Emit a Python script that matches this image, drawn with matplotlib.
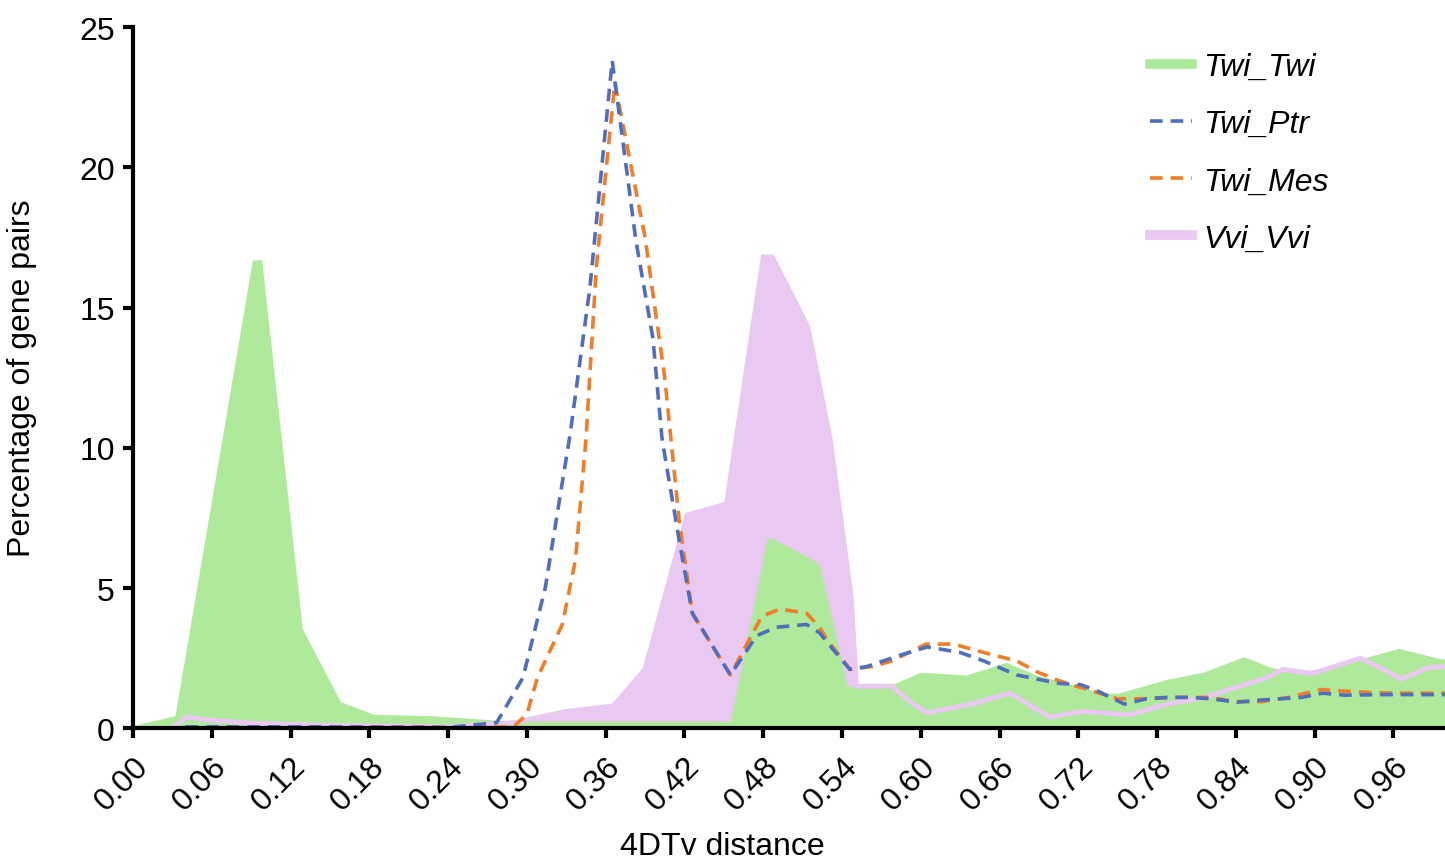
import matplotlib
matplotlib.use("Agg")
import matplotlib.pyplot as plt
from matplotlib.lines import Line2D

plt.rcParams["font.family"] = ["Liberation Sans", "DejaVu Sans"]

# -----------------------------
# Data (4DTv distance, % of gene pairs)
# -----------------------------
twi_twi_x = [0.0, 0.032, 0.091, 0.098, 0.129, 0.158, 0.183, 0.226, 0.274, 0.30, 0.40, 0.455,
             0.483, 0.49, 0.518, 0.523, 0.544, 0.58, 0.60, 0.635, 0.665, 0.688, 0.72, 0.738,
             0.75, 0.788, 0.815, 0.846, 0.865, 0.884, 0.906, 0.937, 0.964, 0.994, 1.0]
twi_twi_y = [0.1, 0.45, 16.7, 16.7, 3.55, 0.95, 0.5, 0.45, 0.3, 0.25, 0.25, 0.25,
             6.8, 6.7, 6.0, 5.8, 1.5, 1.6, 2.0, 1.9, 2.35, 1.9, 1.5, 1.25,
             1.25, 1.75, 2.0, 2.55, 2.2, 1.95, 2.15, 2.5, 2.85, 2.5, 2.45]

vvi_vvi_x = [0.0, 0.03, 0.041, 0.056, 0.091, 0.15, 0.24, 0.29, 0.33, 0.366, 0.39, 0.422,
             0.452, 0.48, 0.487, 0.514, 0.531, 0.547, 0.551, 0.578, 0.593, 0.605, 0.638,
             0.668, 0.698, 0.723, 0.759, 0.788, 0.816, 0.843, 0.863, 0.876, 0.898, 0.935,
             0.95, 0.966, 0.986, 1.0]
vvi_vvi_y = [0.0, 0.0, 0.4, 0.3, 0.18, 0.1, 0.05, 0.2, 0.6, 0.8, 2.1, 7.6,
             8.0, 16.8, 16.8, 14.3, 10.3, 4.7, 1.5, 1.5, 0.9, 0.55, 0.86,
             1.25, 0.4, 0.6, 0.48, 0.86, 1.1, 1.5, 1.8, 2.1, 1.95, 2.5,
             2.15, 1.75, 2.15, 2.2]

twi_ptr_x = [0.04, 0.12, 0.24, 0.277, 0.297, 0.314, 0.333, 0.348, 0.365, 0.383, 0.396, 0.403,
             0.416, 0.426, 0.455, 0.475, 0.49, 0.513, 0.523, 0.528, 0.546, 0.559, 0.584,
             0.605, 0.63, 0.648, 0.673, 0.705, 0.722, 0.736, 0.755, 0.772, 0.788, 0.805,
             0.821, 0.841, 0.857, 0.874, 0.89, 0.906, 0.923, 0.95, 1.0]
twi_ptr_y = [0.05, 0.05, 0.03, 0.2, 1.8, 5.0, 10.5, 15.7, 23.8, 17.4, 13.9, 10.3,
             6.7, 4.1, 1.9, 3.3, 3.6, 3.7, 3.4, 3.1, 2.1, 2.2, 2.6,
             2.9, 2.7, 2.4, 1.9, 1.6, 1.55, 1.3, 0.86, 1.05, 1.1, 1.1,
             1.05, 0.93, 1.0, 1.05, 1.1, 1.25, 1.18, 1.2, 1.2]

twi_mes_x = [0.04, 0.12, 0.24, 0.29, 0.30, 0.308, 0.327, 0.337, 0.345, 0.353, 0.367, 0.39,
             0.405, 0.416, 0.426, 0.455, 0.479, 0.493, 0.513, 0.523, 0.528, 0.546, 0.563,
             0.578, 0.604, 0.625, 0.648, 0.673, 0.689, 0.705, 0.722, 0.75, 0.77, 0.79,
             0.82, 0.84, 0.86, 0.88, 0.905, 0.93, 0.96, 1.0]
twi_mes_y = [0.05, 0.05, 0.03, 0.05, 0.5, 1.8, 3.7, 6.0, 10.3, 16.5, 23.0, 17.5,
             12.5, 7.4, 4.1, 1.9, 4.0, 4.25, 4.1, 3.6, 3.2, 2.1, 2.2,
             2.4, 3.0, 3.0, 2.7, 2.4, 2.0, 1.7, 1.45, 1.05, 1.05, 1.1,
             1.1, 0.95, 0.95, 1.1, 1.38, 1.3, 1.25, 1.25]

x_ticks = [0.00, 0.06, 0.12, 0.18, 0.24, 0.30, 0.36, 0.42, 0.48, 0.54,
           0.60, 0.66, 0.72, 0.78, 0.84, 0.90, 0.96]
y_ticks = [0, 5, 10, 15, 20, 25]

GREEN = "#afe99b"
PINK = "#e9c8f2"
BLUE = "#4f6ebe"
ORANGE = "#f07d28"

fig = plt.figure(figsize=(14.45, 8.62), dpi=100)
ax = fig.add_axes([0.092, 0.154, 0.9087, 0.8135])

# filled distributions
ax.fill_between(vvi_vvi_x, vvi_vvi_y, 0, color=PINK, lw=0, zorder=1)
ax.fill_between(twi_twi_x, twi_twi_y, 0, color=GREEN, lw=0, zorder=2)
ax.plot(vvi_vvi_x, vvi_vvi_y, color=PINK, lw=3.5, zorder=3, solid_joinstyle="miter")

# dashed between-species curves
dash = (0, (3.5, 2.2))
ax.plot(twi_ptr_x, twi_ptr_y, color=BLUE, lw=2.6, linestyle=dash, zorder=5)
ax.plot(twi_mes_x, twi_mes_y, color=ORANGE, lw=2.6, linestyle=dash, zorder=4)

ax.set_xlim(0, 1.0)
ax.set_ylim(0, 25)
ax.set_xticks(x_ticks)
ax.set_xticklabels([f"{t:.2f}" for t in x_ticks], rotation=45, ha="right",
                   rotation_mode="anchor")
ax.set_yticks(y_ticks)

for side in ["top", "right"]:
    ax.spines[side].set_visible(False)
for side in ["left", "bottom"]:
    ax.spines[side].set_linewidth(3)
    ax.spines[side].set_zorder(6)
ax.tick_params(axis="both", direction="out", length=7, width=3, labelsize=23, pad=6)
ax.tick_params(axis="x", pad=9)

ax.set_ylabel("Percentage of gene pairs", fontsize=23)
ax.yaxis.set_label_coords(-0.073, 0.5)
ax.set_xlabel("4DTv distance", fontsize=23)
ax.xaxis.set_label_coords(0.449, -0.146)

handles = [
    Line2D([], [], color=GREEN, lw=7),
    Line2D([], [], color=BLUE, lw=2.6, linestyle=dash),
    Line2D([], [], color=ORANGE, lw=2.6, linestyle=dash),
    Line2D([], [], color=PINK, lw=7),
]
labels = ["Twi_Twi", "Twi_Ptr", "Twi_Mes", "Vvi_Vvi"]
leg = fig.legend(handles, labels, loc="upper left", bbox_to_anchor=(0.785, 0.957),
                 frameon=False, fontsize=23, handlelength=1.3, handletextpad=0.35,
                 labelspacing=0.85, borderpad=0)
for t in leg.get_texts():
    t.set_fontstyle("italic")

fig.savefig("out.png", dpi=100)
